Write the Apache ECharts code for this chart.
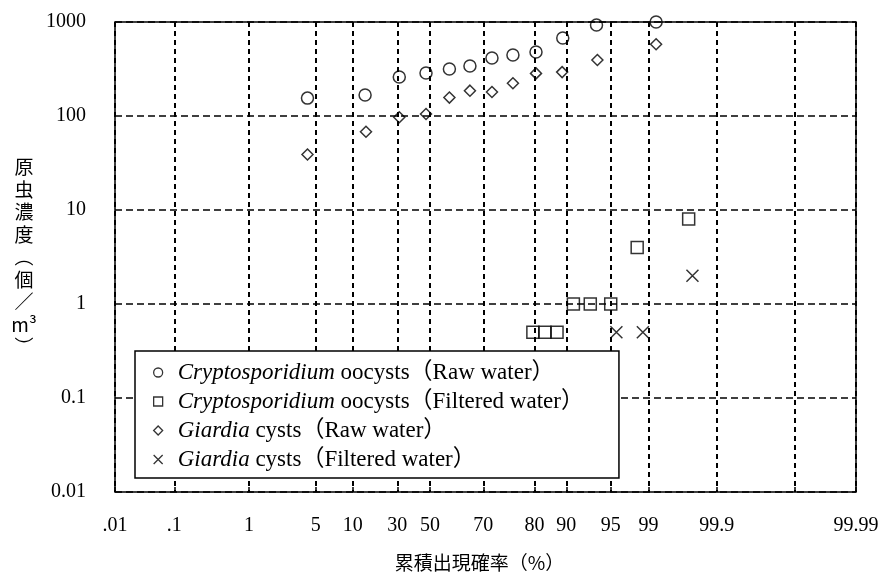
<!DOCTYPE html>
<html><head><meta charset="utf-8">
<script src="https://cdn.jsdelivr.net/npm/echarts@6/dist/echarts.min.js"></script>
<style>html,body{margin:0;padding:0;background:#fff}#c{width:884px;height:583px}</style>
</head><body><div id="c"></div>
<script>
// ---- x axis: cumulative probability (%) on the chart's probability paper ----
const xTickProbs  = [0.01, 0.1, 1, 5, 10, 30, 50, 70, 80, 90, 95, 99, 99.9, 99.95, 99.99];
const xTickLabels = ['.01', '.1', '1', '5', '10', '30', '50', '70', '80', '90', '95', '99', '99.9', '', '99.99'];
// scale of this probability paper: axis units (0-100) assigned to each tick probability
const xScalePos   = [0, 8.0, 18.1, 27.1, 32.1, 38.1, 42.5, 49.7, 56.6, 60.9, 66.9, 72.0, 81.2, 91.8, 100];

// ---- y axis ticks (log) ----
const yTickLabels = ['0.01', '0.1', '1', '10', '100', '1000'];

// ---- series: cumulative probability (%) and concentration (個/m3) ----
const cryptoRawP   = [4.5, 15.5, 31.2, 47.6, 57.3, 65.0, 71.7, 75.8, 80.5, 88.9, 93.4, 99.1];
const cryptoRawV   = [155, 167, 260, 287, 316, 340, 414, 446, 480, 676, 929, 1000];
const cryptoFiltP  = [79.7, 83.3, 87.1, 90.8, 92.7, 95.0, 97.8, 99.53];
const cryptoFiltV  = [0.5, 0.5, 0.5, 1, 1, 1, 4, 8];
const giardiaRawP  = [4.5, 15.9, 31.2, 47.6, 57.3, 65.0, 71.7, 75.8, 80.5, 88.7, 93.5, 99.1];
const giardiaRawV  = [39, 68, 97, 105, 157, 186, 180, 223, 284, 293, 394, 579];
const giardiaFiltP = [95.6, 98.4, 99.58];
const giardiaFiltV = [0.5, 0.5, 2];

const seriesNames = [
  'Cryptosporidium oocysts（Raw water）',
  'Cryptosporidium oocysts（Filtered water）',
  'Giardia cysts（Raw water）',
  'Giardia cysts（Filtered water）'
];

function probToPos(p) {
  for (let i = 0; i < xTickProbs.length - 1; i++) {
    const a = xTickProbs[i], b = xTickProbs[i + 1];
    if (p >= a && p <= b) {
      return xScalePos[i] + (p - a) / (b - a) * (xScalePos[i + 1] - xScalePos[i]);
    }
  }
  return p < xTickProbs[0] ? xScalePos[0] : xScalePos[xScalePos.length - 1];
}
function pairs(P, V) { return P.map((p, i) => [probToPos(p), V[i]]); }

const serif = '"Liberation Serif", "Noto Sans CJK JP", serif';
const jp = '"Noto Sans CJK JP", sans-serif';
const markStyle = { color: 'transparent', borderColor: '#000', borderWidth: 1.5 };

function sc(name, symbol, size, P, V) {
  return {
    type: 'scatter', name: name, symbol: symbol, symbolSize: size,
    itemStyle: markStyle, data: pairs(P, V), z: 3, silent: true
  };
}

const chart = echarts.init(document.getElementById('c'), null, { renderer: 'canvas' });
chart.setOption({
  animation: false,
  backgroundColor: '#fff',
  grid: { left: 115, top: 22, width: 741, height: 470, show: true, borderColor: '#000', borderWidth: 1.5, backgroundColor: 'transparent' },
  xAxis: {
    type: 'value', min: 0, max: 100,
    axisLine: { show: false },
    axisTick: { show: true, inside: true, length: 5, customValues: xScalePos, lineStyle: { color: '#000', width: 1.5 } },
    axisLabel: {
      customValues: xScalePos, margin: 24, color: '#000', fontFamily: serif, fontSize: 20,
      formatter: function (v) {
        for (let i = 0; i < xScalePos.length; i++) if (Math.abs(xScalePos[i] - v) < 1e-6) return xTickLabels[i];
        return '';
      }
    },
    splitLine: { show: true, lineStyle: { color: '#000', width: 2, type: [5, 4] } },
    name: '累積出現確率（%）', nameLocation: 'middle', nameGap: 61,
    nameTextStyle: { fontFamily: jp, fontSize: 19, color: '#000', padding: [0, 12, 0, 0] }
  },
  yAxis: {
    type: 'log', logBase: 10, min: 0.01, max: 1000,
    axisLine: { show: false }, axisTick: { show: false },
    axisLabel: {
      margin: 29, color: '#000', fontFamily: serif, fontSize: 20,
      formatter: function (v) {
        const k = Math.round(Math.log10(v)) + 2;
        return yTickLabels[k] !== undefined ? yTickLabels[k] : '';
      }
    },
    splitLine: { show: true, lineStyle: { color: '#000', width: 1.5, type: [7, 4] } },
    name: ['原', '虫', '濃', '度', '︵', '個', '／', 'm³', '︶'].join('\n'),
    nameLocation: 'middle', nameRotate: 0, nameGap: 91,
    nameTextStyle: { fontFamily: jp, fontSize: 19, lineHeight: 22.5, color: '#000', align: 'center', padding: [0, 0, 17, 0] }
  },
  legend: {
    orient: 'vertical', left: 135, top: 351,
    itemWidth: 9, itemHeight: 9, itemGap: 6,
    padding: [10, 35, 7, 18],
    backgroundColor: '#fff', borderColor: '#000', borderWidth: 1.5, borderRadius: 0,
    selectedMode: false, z: 10,
    itemStyle: { borderWidth: 1.3 },
    data: seriesNames,
    textStyle: {
      fontFamily: serif, fontSize: 23, color: '#000', padding: [0, 0, 0, 10],
      rich: {
        i: { fontFamily: '"Liberation Serif", serif', fontStyle: 'italic', fontSize: 23, color: '#000' },
        r: { fontFamily: serif, fontSize: 23, color: '#000' }
      }
    },
    formatter: function (name) {
      const sp = name.indexOf(' ');
      return '{i|' + name.slice(0, sp) + '}{r|' + name.slice(sp) + '}';
    }
  },
  series: [
    sc(seriesNames[0], 'circle', 12, cryptoRawP, cryptoRawV),
    sc(seriesNames[1], 'rect', 12, cryptoFiltP, cryptoFiltV),
    sc(seriesNames[2], 'diamond', 11, giardiaRawP, giardiaRawV),
    sc(seriesNames[3], 'path://M0,0L10,10M10,0L0,10', 12, giardiaFiltP, giardiaFiltV)
  ]
});
</script>
</body></html>
